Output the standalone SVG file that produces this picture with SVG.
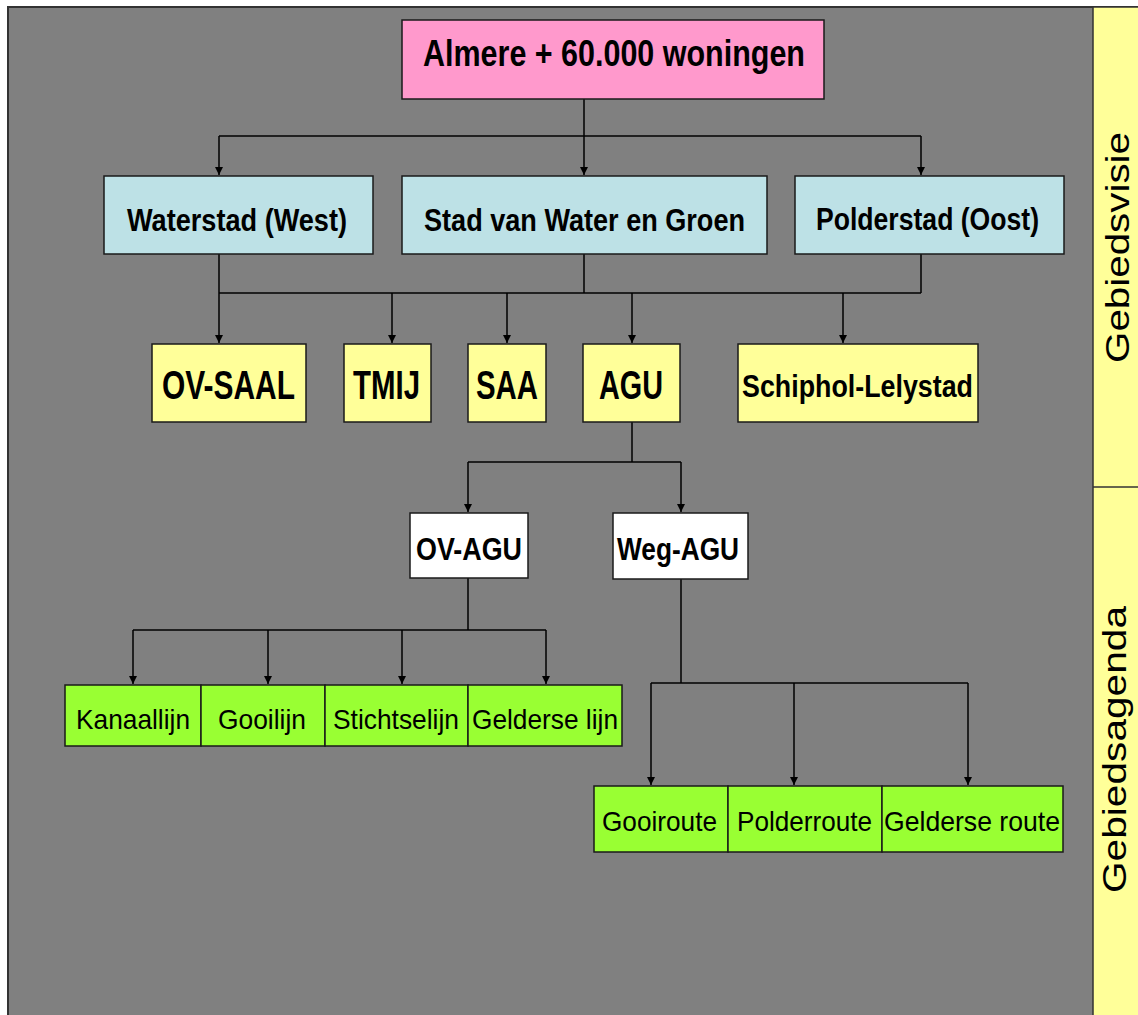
<svg xmlns="http://www.w3.org/2000/svg" width="1138" height="1015" viewBox="0 0 1138 1015">
<defs>
<style>
.box{stroke:#1a1a1a;stroke-width:1.5}
.pink{fill:#FF99CC}
.blue{fill:#BDE1E6}
.yel{fill:#FFFF99}
.wht{fill:#FFFFFF}
.grn{fill:#99FF33}
.t{font-family:"Liberation Sans",Arial,sans-serif;fill:#000}
.b{font-weight:bold}
.c{fill:none;stroke:#000;stroke-width:1.5}
</style>
<marker id="ah" viewBox="0 0 10 10" refX="10" refY="5" markerWidth="8" markerHeight="8" markerUnits="userSpaceOnUse" orient="auto">
<path d="M0,0 L10,5 L0,10 z" fill="#000"/>
</marker>
</defs>
<rect x="0" y="0" width="1138" height="1015" fill="#FFFFFF"/>
<rect x="8" y="7" width="1140" height="1020" fill="#808080" stroke="#333" stroke-width="2"/>
<g id="panel">
<rect x="1093" y="7" width="50" height="1015" fill="#FFFF99" stroke="#333" stroke-width="1.5"/>
<line x1="1093" y1="487" x2="1138" y2="487" stroke="#333" stroke-width="1.5"/>
<text class="t" font-size="34" transform="translate(1129,363) rotate(-90)" textLength="231" lengthAdjust="spacingAndGlyphs">Gebiedsvisie</text>
<text class="t" font-size="34" transform="translate(1126,893) rotate(-90)" textLength="287" lengthAdjust="spacingAndGlyphs">Gebiedsagenda</text>
</g>
<g id="connectors">
<path class="c" d="M584,99 V136 M219,136 H921"/>
<path class="c" d="M219,136 V175" marker-end="url(#ah)"/>
<path class="c" d="M584,136 V175" marker-end="url(#ah)"/>
<path class="c" d="M921,136 V175" marker-end="url(#ah)"/>
<path class="c" d="M219,254 V293 M584,254 V293 M921,254 V293 M219,293 H921"/>
<path class="c" d="M219,293 V343" marker-end="url(#ah)"/>
<path class="c" d="M392,293 V343" marker-end="url(#ah)"/>
<path class="c" d="M507,293 V343" marker-end="url(#ah)"/>
<path class="c" d="M632,293 V343" marker-end="url(#ah)"/>
<path class="c" d="M843,293 V343" marker-end="url(#ah)"/>
<path class="c" d="M632,422 V462 M468,462 H681"/>
<path class="c" d="M468,462 V512" marker-end="url(#ah)"/>
<path class="c" d="M681,462 V512" marker-end="url(#ah)"/>
<path class="c" d="M468,578 V630 M133,630 H546"/>
<path class="c" d="M133,630 V684" marker-end="url(#ah)"/>
<path class="c" d="M268,630 V684" marker-end="url(#ah)"/>
<path class="c" d="M402,630 V684" marker-end="url(#ah)"/>
<path class="c" d="M546,630 V684" marker-end="url(#ah)"/>
<path class="c" d="M681,579 V683 M651,683 H968"/>
<path class="c" d="M651,683 V785" marker-end="url(#ah)"/>
<path class="c" d="M794,683 V785" marker-end="url(#ah)"/>
<path class="c" d="M968,683 V785" marker-end="url(#ah)"/>
</g>
<g id="almere"><rect class="box pink" x="402" y="20" width="422" height="79"/><text class="t b" x="423" y="66" font-size="36" textLength="382" lengthAdjust="spacingAndGlyphs">Almere + 60.000 woningen</text></g>
<g id="waterstad"><rect class="box blue" x="104" y="176" width="269" height="78"/><text class="t b" x="127" y="231" font-size="32" textLength="220" lengthAdjust="spacingAndGlyphs">Waterstad (West)</text></g>
<g id="stadvanwater"><rect class="box blue" x="402" y="176" width="365" height="78"/><text class="t b" x="424" y="231" font-size="32" textLength="321" lengthAdjust="spacingAndGlyphs">Stad van Water en Groen</text></g>
<g id="polderstad"><rect class="box blue" x="795" y="176" width="269" height="78"/><text class="t b" x="816" y="230" font-size="32" textLength="223" lengthAdjust="spacingAndGlyphs">Polderstad (Oost)</text></g>
<g id="ovsaal"><rect class="box yel" x="152" y="344" width="154" height="78"/><text class="t b" x="162" y="399" font-size="40" textLength="133" lengthAdjust="spacingAndGlyphs">OV-SAAL</text></g>
<g id="tmij"><rect class="box yel" x="344" y="344" width="87" height="78"/><text class="t b" x="353" y="399" font-size="40" textLength="67" lengthAdjust="spacingAndGlyphs">TMIJ</text></g>
<g id="saa"><rect class="box yel" x="468" y="344" width="78" height="78"/><text class="t b" x="476" y="399" font-size="40" textLength="62" lengthAdjust="spacingAndGlyphs">SAA</text></g>
<g id="agu"><rect class="box yel" x="583" y="344" width="97" height="78"/><text class="t b" x="599" y="399" font-size="40" textLength="64" lengthAdjust="spacingAndGlyphs">AGU</text></g>
<g id="schiphol"><rect class="box yel" x="738" y="344" width="240" height="78"/><text class="t b" x="742" y="397" font-size="32" textLength="231" lengthAdjust="spacingAndGlyphs">Schiphol-Lelystad</text></g>
<g id="ovagu"><rect class="box wht" x="410" y="513" width="118" height="65"/><text class="t b" x="416" y="560" font-size="32" textLength="106" lengthAdjust="spacingAndGlyphs">OV-AGU</text></g>
<g id="wegagu"><rect class="box wht" x="613" y="513" width="135" height="66"/><text class="t b" x="617" y="560" font-size="32" textLength="122" lengthAdjust="spacingAndGlyphs">Weg-AGU</text></g>
<g id="kanaallijn"><rect class="box grn" x="65" y="685" width="136" height="61"/><text class="t" x="76" y="729" font-size="28" textLength="114" lengthAdjust="spacingAndGlyphs">Kanaallijn</text></g>
<g id="gooilijn"><rect class="box grn" x="201" y="685" width="124" height="61"/><text class="t" x="218" y="729" font-size="28" textLength="88" lengthAdjust="spacingAndGlyphs">Gooilijn</text></g>
<g id="stichtselijn"><rect class="box grn" x="325" y="685" width="143" height="61"/><text class="t" x="333" y="729" font-size="28" textLength="126" lengthAdjust="spacingAndGlyphs">Stichtselijn</text></g>
<g id="gelderselijn"><rect class="box grn" x="468" y="685" width="154" height="61"/><text class="t" x="472" y="729" font-size="28" textLength="146" lengthAdjust="spacingAndGlyphs">Gelderse lijn</text></g>
<g id="gooiroute"><rect class="box grn" x="594" y="786" width="134" height="66"/><text class="t" x="602" y="831" font-size="28" textLength="115" lengthAdjust="spacingAndGlyphs">Gooiroute</text></g>
<g id="polderroute"><rect class="box grn" x="728" y="786" width="154" height="66"/><text class="t" x="737" y="831" font-size="28" textLength="135" lengthAdjust="spacingAndGlyphs">Polderroute</text></g>
<g id="gelderseroute"><rect class="box grn" x="882" y="786" width="181" height="66"/><text class="t" x="884" y="831" font-size="28" textLength="176" lengthAdjust="spacingAndGlyphs">Gelderse route</text></g>
</svg>
